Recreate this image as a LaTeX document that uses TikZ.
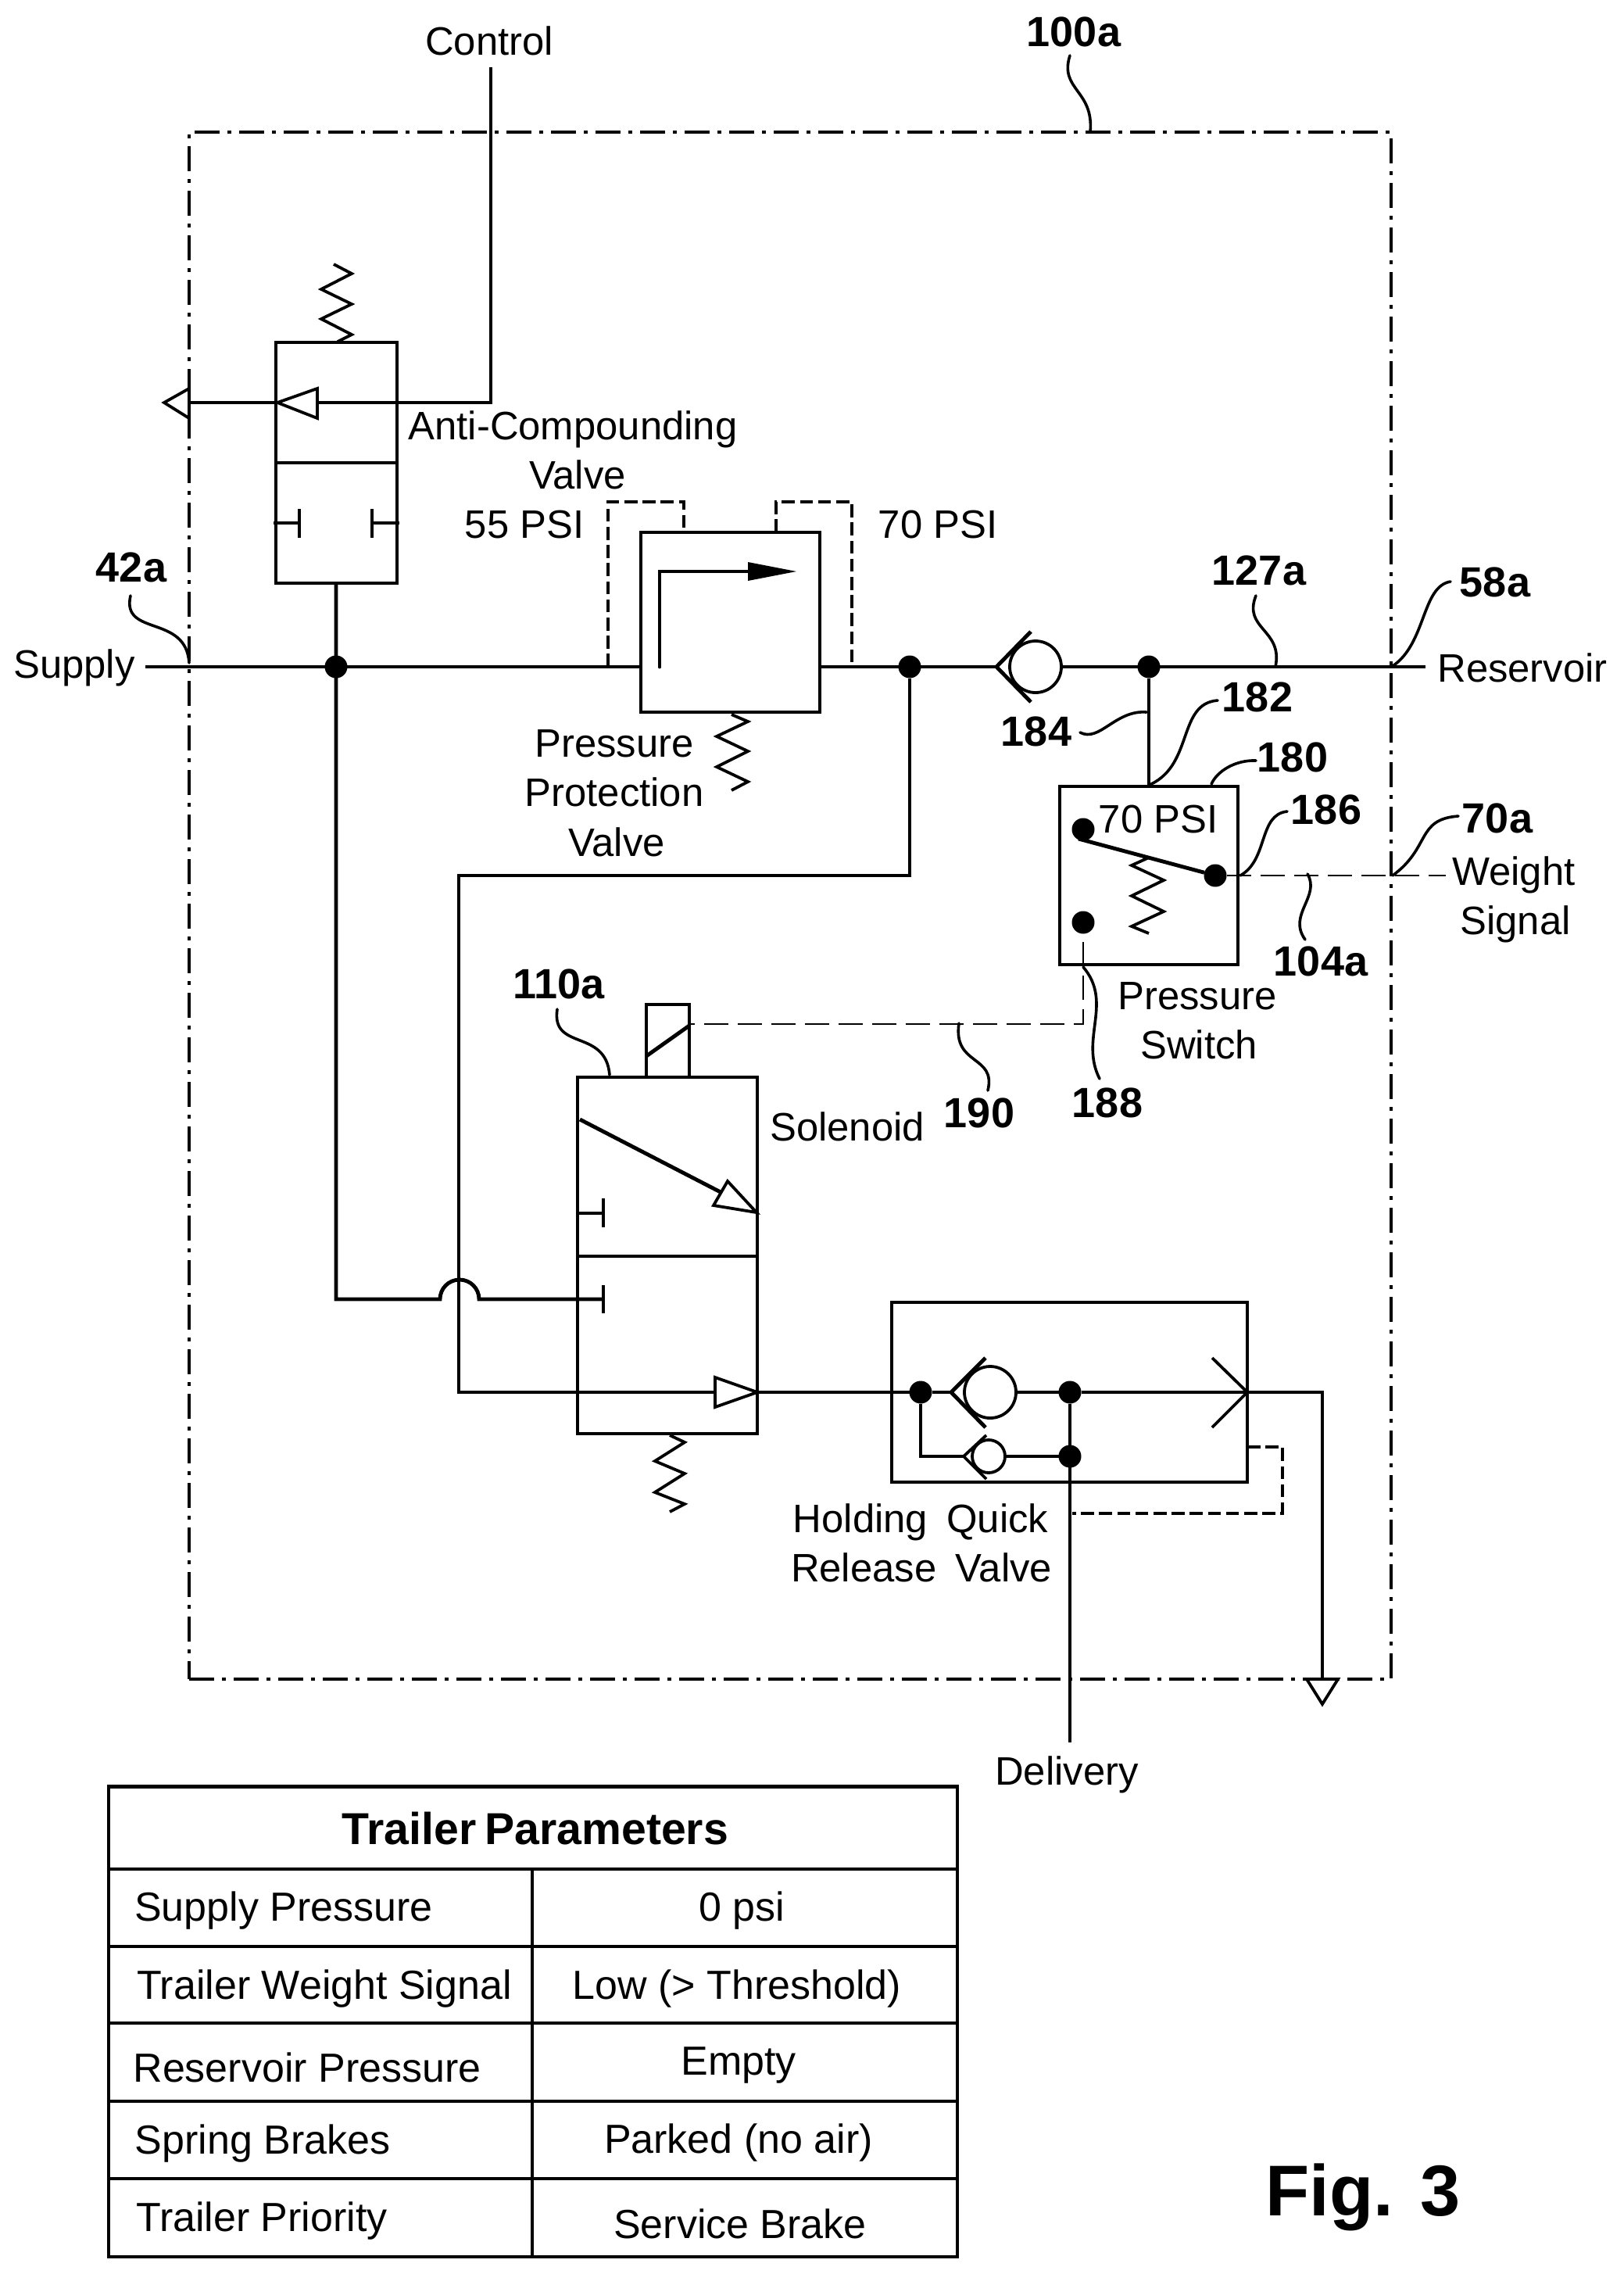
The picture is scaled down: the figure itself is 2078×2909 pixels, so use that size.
\documentclass[tikz,border=0pt]{standalone}
\usepackage{fontspec}
\setmainfont{Liberation Sans}
\begin{document}
\begin{tikzpicture}[x=0.5pt,y=-0.5pt,
  ln/.style={line width=2.45pt,line join=miter},
  spr/.style={line width=1.9pt,line join=miter},
  ldr/.style={line width=1.8pt,line cap=round},
  frame/.style={line width=2.35pt,dash pattern=on 16pt off 5pt on 2.5pt off 5pt},
  thd/.style={line width=0.85pt,dash pattern=on 15.5pt off 6pt},
  mdd/.style={line width=2pt,dash pattern=on 8.3pt off 3.3pt},
  jdot/.style={circle,fill=black,draw=none,inner sep=0pt,outer sep=0pt,minimum size=14.5pt},
  boxn/.style={draw,line width=2.45pt,inner sep=0pt,outer sep=0pt,anchor=north west},
  cv/.style={circle,draw,line width=1.9pt,inner sep=0pt,outer sep=0pt,fill=white},
  tri/.style={draw,line width=1.9pt,fill=white,line join=miter},
  lab/.style={inner sep=0pt,font=\fontsize{25.4pt}{30pt}\selectfont,align=center},
  num/.style={inner sep=0pt,font=\fontsize{27pt}{32pt}\selectfont\bfseries},
  cell/.style={inner sep=0pt,font=\fontsize{26pt}{30pt}\selectfont}]
\useasboundingbox (0,0) rectangle (2078,2909);
\fill[white] (0,0) rectangle (2078,2909);

% outer frame
\node[draw,frame,inner sep=0pt,outer sep=0pt,minimum width=769pt,minimum height=989.5pt,anchor=north west] (frm) at (242,169) {};

% named connection points
\coordinate (supS) at (186,853);
\coordinate (resE) at (1824,853);
\coordinate (ctrlT) at (628,86);
\coordinate (ctrlC) at (628,515);
\coordinate (wgE) at (1850,1120);
\coordinate (delE) at (1369,2229);

% Anti-compounding valve
\node[boxn,minimum width=77.5pt,minimum height=154pt] (acv) at (353,438) {};
\draw[ln] (353,592) -- (508,592);
\draw[spr] (432,437) -- (450,428) -- (411,408) -- (450,389) -- (411,370) -- (450,350) -- (427,338);
\draw[ln] (ctrlT) -- (ctrlC) -- (406,515);
\draw[ln] (353,515) -- (242,515);
\draw[tri] (355,515) -- (406,497) -- (406,535) -- cycle;
\draw[tri] (210,515) -- (242,497) -- (242,535) -- cycle;
\draw[ln] (350,669) -- (383,669) (383,651) -- (383,688);
\draw[ln] (511,669) -- (476,669) (476,651) -- (476,688);

% Pressure protection valve
\node[boxn,minimum width=114.5pt,minimum height=115pt] (ppv) at (820,681) {};
\draw[mdd] (778,853) -- (778,642) -- (875,642) -- (875,681);
\draw[mdd] (993,681) -- (993,642) -- (1090,642) -- (1090,853);
\draw[ln,line cap=round] (844,853) -- (844,731) -- (960,731);
\fill (1019,731) -- (957,719) -- (957,743) -- cycle;
\draw[spr] (936,914) -- (957,923) -- (917,942) -- (957,961) -- (917,981) -- (957,1000) -- (936,1011);

% main line and junctions
\node[jdot] (j1) at (430,853) {};
\node[jdot] (j2) at (1164,853) {};
\node[jdot] (j3) at (1470,853) {};
\draw[ln] (supS) -- (ppv.west |- supS);
\draw[ln] (ppv.east |- resE) -- (1275,853);
\draw[ln] (1358,853) -- (resE);
\draw[ln] (acv.south -| j1) -- (430,1662) -- (563,1662) arc[start angle=180,end angle=360,radius=25] -- (772,1662);
% check valve
\node[cv,minimum size=33pt] (cv1) at (1325,853) {};
\draw[ln] (1319,808) -- (1275,853) -- (1319,898);

% Pressure switch
\node[boxn,minimum width=114pt,minimum height=114pt] (psw) at (1356,1006) {};
\draw[ln] (j3) -- (j3 |- psw.north);
\node[jdot] (c1) at (1386,1061) {};
\node[jdot] (c2) at (1555,1120) {};
\node[jdot] (c3) at (1386,1180) {};
\draw[ln] (1380,1073) -- (c2);
\draw[spr] (1470,1097) -- (1448,1107) -- (1489,1126) -- (1448,1146) -- (1489,1166) -- (1448,1185) -- (1470,1194);
\draw[thd] (1570,1120) -- (wgE);
\coordinate (solR) at (882,1310);
\draw[thd] (1386,1205) -- (1386,1310) -- (solR);

% Solenoid valve
\node[boxn,minimum width=115pt,minimum height=228pt] (sol) at (739,1378) {};
\node[boxn,minimum width=27.5pt,minimum height=46.5pt] (coil) at (827,1285) {};
\draw[ln] (827,1351) -- (882,1312);
\draw[ln] (739,1607) -- (969,1607);
\draw[ln] (742,1432) -- (922,1525);
\draw[tri] (968,1551) -- (931,1511) -- (913,1542) -- cycle;
\draw[ln] (739,1552) -- (772,1552) (772,1533) -- (772,1570);
\draw[ln] (772,1644) -- (772,1680);
\draw[spr] (857,1836) -- (876,1845) -- (838,1869) -- (876,1885) -- (838,1909) -- (876,1924) -- (857,1934);

% supply branch to solenoid
\draw[ln] (j2) -- (1164,1120) -- (587,1120) -- (587,1781) -- (915,1781);
\draw[tri] (969,1781) -- (915,1762) -- (915,1800) -- cycle;

% Quick release valve
\node[boxn,minimum width=227.5pt,minimum height=115pt] (qrv) at (1141,1666) {};
\node[jdot] (q1) at (1178,1781) {};
\node[jdot] (q2) at (1369,1781) {};
\node[jdot] (q3) at (1369,1863) {};
\draw[ln] (969,1781) -- (q1) -- (1217,1781);
\draw[ln] (1300,1781) -- (q2) -- (1692,1781) -- (1692,2148);
\node[cv,minimum size=33pt] (cv2) at (1267,1781) {};
\draw[ln] (1261,1737) -- (1217,1781) -- (1261,1826);
\draw[ln] (q1) -- (1178,1863) -- (1233,1863);
\draw[ln] (1285,1863) -- (q3);
\node[cv,minimum size=21pt] (cv3) at (1265,1863) {};
\draw[spr] (1262,1836) -- (1233,1863) -- (1262,1892);
\draw[spr] (1551,1737) -- (1596,1781) -- (1551,1826);
\draw[ln] (q2) -- (delE);
\draw[mdd] (1596,1851) -- (1641,1851) -- (1641,1936) -- (1372,1936);
\draw[tri] (1692,2180) -- (1672,2148) -- (1712,2148) -- cycle;

% leaders
\draw[ldr] (167,762) .. controls (155,815) and (238,785) .. (242,848);
\draw[ldr] (1369,71) .. controls (1355,115) and (1400,115) .. (1395,169);
\draw[ldr] (1856,744) .. controls (1819,750) and (1825,823) .. (1782,852);
\draw[ldr] (1607,762) .. controls (1590,805) and (1642,805) .. (1632,853);
\draw[ldr] (1558,896) .. controls (1507,900) and (1527,977) .. (1473,1003);
\draw[ldr] (1382,937) .. controls (1407,950) and (1427,908) .. (1467,911);
\draw[ldr] (1607,973) .. controls (1580,972) and (1557,987) .. (1550,1003);
\draw[ldr] (1647,1038) .. controls (1610,1042) and (1623,1100) .. (1587,1120);
\draw[ldr] (1866,1044) .. controls (1812,1048) and (1831,1084) .. (1782,1120);
\draw[ldr] (1673,1118) .. controls (1690,1147) and (1647,1170) .. (1670,1202);
\draw[ldr] (1386,1237) .. controls (1425,1283) and (1381,1329) .. (1407,1380);
\draw[ldr] (1227,1309) .. controls (1219,1364) and (1275,1349) .. (1264,1395);
\draw[ldr] (713,1291) .. controls (705,1345) and (775,1315) .. (780,1375);

% labels
\node[lab] (tCtrl) at (626,52) {Control};
\node[num] (n100a) at (1374,41) {100a};
\node[lab] (tSup) at (95,854) {Supply};
\node[lab] (tRes) at (1948,854) {Reservoir};
\node[num] (n42a) at (168,726) {42a};
\node[num] (n127a) at (1611,730) {127a};
\node[num] (n58a) at (1913,745) {58a};
\node[num] (n182) at (1609,892) {182};
\node[num] (n184) at (1326,936) {184};
\node[num] (n180) at (1654,969) {180};
\node[num] (n186) at (1697,1036) {186};
\node[num] (n70a) at (1916,1047) {70a};
\node[lab] (tPsi3) at (1482,1048) {70 PSI};
\node[lab] (tWeight) at (1937,1119) {Weight};
\node[lab] (tSignal) at (1939,1182) {Signal};
\node[num] (n104a) at (1690,1230) {104a};
\node[lab] (tPS1) at (1532,1274) {Pressure};
\node[lab] (tPS2) at (1534,1336) {Switch};
\node[num] (n188) at (1417,1411) {188};
\node[num] (n190) at (1253,1424) {190};
\node[lab] (tSol) at (1084,1441) {Solenoid};
\node[num] (n110a) at (715,1259) {110a};
\node[lab] (tAC1) at (733,549) {Anti-Compounding};
\node[lab] (tAC2) at (739,607) {Valve};
\node[lab] (tPsi1) at (671,671) {55 PSI};
\node[lab] (tPsi2) at (1200,671) {70 PSI};
\node[lab] (tPP1) at (786,951) {Pressure};
\node[lab] (tPP2) at (786,1013) {Protection};
\node[lab] (tPP3) at (789,1077) {Valve};
\node[lab] (tQ1) at (1178,1947) {Holding\hspace{.2em}\ Quick};
\node[lab] (tQ2) at (1179,2005) {Release\hspace{.2em}\ Valve};
\node[lab] (tDel) at (1365,2270) {Delivery};

% table
\draw[line width=2.25pt] (139,2285.5) rectangle (1225,2887);
\foreach \yy in {2391,2490,2588,2688,2787} \draw[line width=2.25pt] (139,\yy) -- (1225,\yy);
\draw[line width=2.25pt] (681,2391) -- (681,2887);
\node[cell,font=\fontsize{28.6pt}{32pt}\selectfont\bfseries] (th) at (685,2339) {Trailer\hspace{.19em}Parameters};
\node[cell] (a1) at (363,2444) {Supply Pressure};
\node[cell] (b1) at (949,2444) {0 psi};
\node[cell] (a2) at (415,2544) {Trailer Weight Signal};
\node[cell] (b2) at (943,2544) {Low (> Threshold)};
\node[cell] (a3) at (393,2645) {Reservoir Pressure};
\node[cell] (b3) at (945,2642) {Empty};
\node[cell] (a4) at (336,2742) {Spring Brakes};
\node[cell] (b4) at (945,2741) {Parked (no air)};
\node[cell] (a5) at (335,2841) {Trailer Priority};
\node[cell] (b5) at (947,2845) {Service Brake};
\node[inner sep=0pt,font=\fontsize{46pt}{54pt}\selectfont\bfseries] (fig) at (1744,2811) {Fig. 3};
\end{tikzpicture}
\end{document}
